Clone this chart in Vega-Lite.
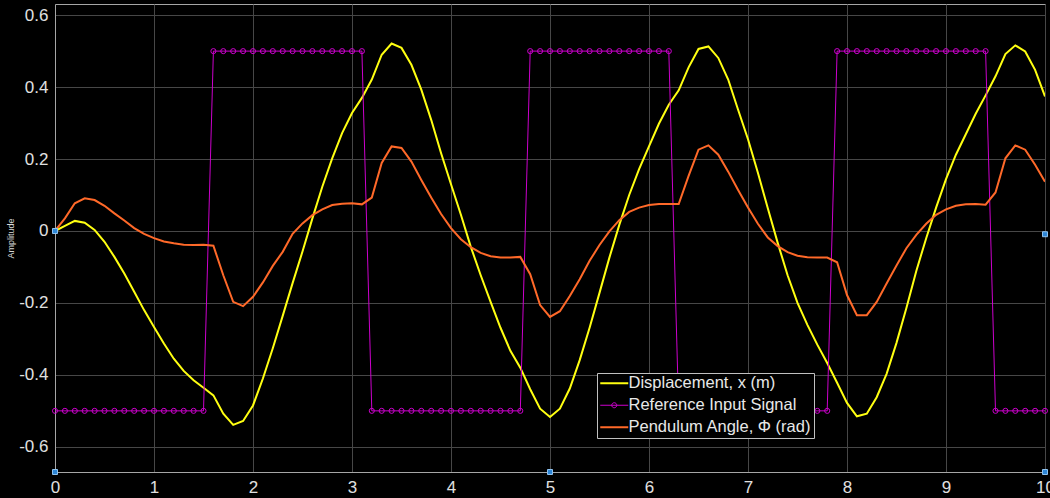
{
"$schema": "https://vega.github.io/schema/vega-lite/v6.json",
"width": 990, "height": 468,
"autosize": {"type": "none"},
"padding": {"left": 55, "top": 4, "right": 5, "bottom": 26},
"background": "#000000",
"config": {"view": {"stroke": "#a6a6a6", "fill": "#000000"}},
"datasets": {
"sim": [
{"t":0,"x":0,"ref":-0.5,"phi":0},
{"t":0.1,"x":0.014,"ref":-0.5,"phi":0.035},
{"t":0.2,"x":0.028,"ref":-0.5,"phi":0.077},
{"t":0.3,"x":0.023,"ref":-0.5,"phi":0.091},
{"t":0.4,"x":0.003,"ref":-0.5,"phi":0.086},
{"t":0.5,"x":-0.030,"ref":-0.5,"phi":0.070},
{"t":0.6,"x":-0.072,"ref":-0.5,"phi":0.049},
{"t":0.7,"x":-0.118,"ref":-0.5,"phi":0.029},
{"t":0.8,"x":-0.169,"ref":-0.5,"phi":0.008},
{"t":0.9,"x":-0.220,"ref":-0.5,"phi":-0.008},
{"t":1.0,"x":-0.267,"ref":-0.5,"phi":-0.020},
{"t":1.1,"x":-0.313,"ref":-0.5,"phi":-0.029},
{"t":1.2,"x":-0.355,"ref":-0.5,"phi":-0.034},
{"t":1.3,"x":-0.389,"ref":-0.5,"phi":-0.038},
{"t":1.4,"x":-0.415,"ref":-0.5,"phi":-0.039},
{"t":1.5,"x":-0.436,"ref":-0.5,"phi":-0.038},
{"t":1.6,"x":-0.457,"ref":0.5,"phi":-0.041},
{"t":1.7,"x":-0.508,"ref":0.5,"phi":-0.123},
{"t":1.8,"x":-0.539,"ref":0.5,"phi":-0.197},
{"t":1.9,"x":-0.528,"ref":0.5,"phi":-0.209},
{"t":2.0,"x":-0.485,"ref":0.5,"phi":-0.183},
{"t":2.1,"x":-0.410,"ref":0.5,"phi":-0.143},
{"t":2.2,"x":-0.326,"ref":0.5,"phi":-0.097},
{"t":2.3,"x":-0.236,"ref":0.5,"phi":-0.058},
{"t":2.4,"x":-0.145,"ref":0.5,"phi":-0.008},
{"t":2.5,"x":-0.057,"ref":0.5,"phi":0.021},
{"t":2.6,"x":0.035,"ref":0.5,"phi":0.044},
{"t":2.7,"x":0.123,"ref":0.5,"phi":0.060},
{"t":2.8,"x":0.202,"ref":0.5,"phi":0.072},
{"t":2.9,"x":0.272,"ref":0.5,"phi":0.076},
{"t":3.0,"x":0.328,"ref":0.5,"phi":0.077},
{"t":3.1,"x":0.370,"ref":0.5,"phi":0.074},
{"t":3.2,"x":0.421,"ref":-0.5,"phi":0.093},
{"t":3.3,"x":0.490,"ref":-0.5,"phi":0.189},
{"t":3.4,"x":0.521,"ref":-0.5,"phi":0.235},
{"t":3.5,"x":0.509,"ref":-0.5,"phi":0.231},
{"t":3.6,"x":0.462,"ref":-0.5,"phi":0.193},
{"t":3.7,"x":0.393,"ref":-0.5,"phi":0.142},
{"t":3.8,"x":0.309,"ref":-0.5,"phi":0.093},
{"t":3.9,"x":0.216,"ref":-0.5,"phi":0.047},
{"t":4.0,"x":0.130,"ref":-0.5,"phi":0.008},
{"t":4.1,"x":0.045,"ref":-0.5,"phi":-0.023},
{"t":4.2,"x":-0.044,"ref":-0.5,"phi":-0.045},
{"t":4.3,"x":-0.123,"ref":-0.5,"phi":-0.061},
{"t":4.4,"x":-0.197,"ref":-0.5,"phi":-0.070},
{"t":4.5,"x":-0.269,"ref":-0.5,"phi":-0.074},
{"t":4.6,"x":-0.333,"ref":-0.5,"phi":-0.074},
{"t":4.7,"x":-0.380,"ref":-0.5,"phi":-0.072},
{"t":4.8,"x":-0.440,"ref":0.5,"phi":-0.120},
{"t":4.9,"x":-0.494,"ref":0.5,"phi":-0.206},
{"t":5.0,"x":-0.517,"ref":0.5,"phi":-0.239},
{"t":5.1,"x":-0.494,"ref":0.5,"phi":-0.223},
{"t":5.2,"x":-0.438,"ref":0.5,"phi":-0.181},
{"t":5.3,"x":-0.359,"ref":0.5,"phi":-0.134},
{"t":5.4,"x":-0.269,"ref":0.5,"phi":-0.083},
{"t":5.5,"x":-0.172,"ref":0.5,"phi":-0.039},
{"t":5.6,"x":-0.074,"ref":0.5,"phi":-0.001},
{"t":5.7,"x":0.017,"ref":0.5,"phi":0.030},
{"t":5.8,"x":0.100,"ref":0.5,"phi":0.053},
{"t":5.9,"x":0.172,"ref":0.5,"phi":0.065},
{"t":6.0,"x":0.235,"ref":0.5,"phi":0.072},
{"t":6.1,"x":0.298,"ref":0.5,"phi":0.075},
{"t":6.2,"x":0.351,"ref":0.5,"phi":0.075},
{"t":6.3,"x":0.391,"ref":-0.5,"phi":0.075},
{"t":6.4,"x":0.455,"ref":-0.5,"phi":0.153},
{"t":6.5,"x":0.506,"ref":-0.5,"phi":0.226},
{"t":6.6,"x":0.513,"ref":-0.5,"phi":0.238},
{"t":6.7,"x":0.481,"ref":-0.5,"phi":0.212},
{"t":6.8,"x":0.421,"ref":-0.5,"phi":0.165},
{"t":6.9,"x":0.337,"ref":-0.5,"phi":0.114},
{"t":7.0,"x":0.255,"ref":-0.5,"phi":0.065},
{"t":7.1,"x":0.162,"ref":-0.5,"phi":0.020},
{"t":7.2,"x":0.063,"ref":-0.5,"phi":-0.018},
{"t":7.3,"x":-0.033,"ref":-0.5,"phi":-0.042},
{"t":7.4,"x":-0.123,"ref":-0.5,"phi":-0.059},
{"t":7.5,"x":-0.200,"ref":-0.5,"phi":-0.069},
{"t":7.6,"x":-0.261,"ref":-0.5,"phi":-0.073},
{"t":7.7,"x":-0.316,"ref":-0.5,"phi":-0.074},
{"t":7.8,"x":-0.367,"ref":-0.5,"phi":-0.074},
{"t":7.9,"x":-0.422,"ref":0.5,"phi":-0.087},
{"t":8.0,"x":-0.478,"ref":0.5,"phi":-0.178},
{"t":8.1,"x":-0.515,"ref":0.5,"phi":-0.234},
{"t":8.2,"x":-0.508,"ref":0.5,"phi":-0.234},
{"t":8.3,"x":-0.462,"ref":0.5,"phi":-0.197},
{"t":8.4,"x":-0.397,"ref":0.5,"phi":-0.146},
{"t":8.5,"x":-0.311,"ref":0.5,"phi":-0.096},
{"t":8.6,"x":-0.214,"ref":0.5,"phi":-0.048},
{"t":8.7,"x":-0.111,"ref":0.5,"phi":-0.011},
{"t":8.8,"x":-0.020,"ref":0.5,"phi":0.020},
{"t":8.9,"x":0.065,"ref":0.5,"phi":0.045},
{"t":9.0,"x":0.144,"ref":0.5,"phi":0.060},
{"t":9.1,"x":0.212,"ref":0.5,"phi":0.070},
{"t":9.2,"x":0.269,"ref":0.5,"phi":0.074},
{"t":9.3,"x":0.326,"ref":0.5,"phi":0.075},
{"t":9.4,"x":0.377,"ref":0.5,"phi":0.073},
{"t":9.5,"x":0.430,"ref":-0.5,"phi":0.107},
{"t":9.6,"x":0.492,"ref":-0.5,"phi":0.202},
{"t":9.7,"x":0.516,"ref":-0.5,"phi":0.238},
{"t":9.8,"x":0.499,"ref":-0.5,"phi":0.226},
{"t":9.9,"x":0.448,"ref":-0.5,"phi":0.184},
{"t":10.0,"x":0.374,"ref":-0.5,"phi":0.137}
],
"cursor": [
{"t":0,"value":0},
{"t":0,"value":-0.67},
{"t":5,"value":-0.67},
{"t":10,"value":-0.67},
{"t":10,"value":-0.009}
]
},
"layer": [
{
"data": {"name": "sim"},
"transform": [{"fold": ["x", "ref", "phi"], "as": ["series", "value"]}],
"mark": {"type": "line", "clip": true},
"encoding": {
"x": {"field": "t", "type": "quantitative",
 "scale": {"domain": [0, 10], "nice": false},
 "axis": {"values": [0,1,2,3,4,5,6,7,8,9,10], "title": null, "format": "d",
  "labelFont": "Liberation Sans", "labelFontSize": 17, "labelColor": "#e0e0e0",
  "labelPadding": 7, "ticks": false, "domainColor": "#a6a6a6", "grid": true, "gridColor": "#474747",
  "labelOverlap": false, "labelBound": false, "labelFlush": false}},
"y": {"field": "value", "type": "quantitative",
 "scale": {"domain": [-0.67, 0.631], "nice": false, "zero": false},
 "axis": {"values": [-0.6,-0.4,-0.2,0,0.2,0.4,0.6],
  "labelExpr": "datum.value === 0 ? '0' : (datum.value < 0 ? '-' + format(-datum.value, '.1f') : format(datum.value, '.1f'))",
  "title": "Amplitude", "titleFont": "Liberation Sans", "titleFontSize": 9, "titleFontWeight": "normal", "titleColor": "#d8d8d8", "titlePadding": 3,
  "labelFont": "Liberation Sans", "labelFontSize": 17, "labelColor": "#e0e0e0",
  "labelPadding": 7, "ticks": false, "domainColor": "#a6a6a6", "grid": true, "gridColor": "#474747",
  "labelOverlap": false, "labelBound": false, "labelFlush": false}},
"color": {"field": "series", "type": "nominal",
 "scale": {"domain": ["x", "ref", "phi"], "range": ["#FFFF11", "#CC00CC", "#FF6929"]},
 "legend": {"orient": "none", "legendX": 542, "legendY": 369, "title": null,
  "fillColor": "#000000", "strokeColor": "#c0c0c0", "padding": 2,
  "labelFont": "Liberation Sans", "labelFontSize": 16.5, "labelColor": "#e8e8e8", "labelLimit": 400,
  "symbolType": "M-2,0H2", "symbolSize": 196, "symbolStrokeWidth": 2, "symbolOffset": 7,
  "labelOffset": 6, "rowPadding": 5,
  "labelExpr": "datum.value === 'x' ? 'Displacement, x (m)' : (datum.value === 'ref' ? 'Reference Input Signal' : 'Pendulum Angle, Φ (rad)')",
  "encode": {"symbols": {"update": {
   "shape": {"signal": "datum.value === 'ref' ? 'M-2,0H2M-0.36,0A0.36,0.36,0,1,0,0.36,0A0.36,0.36,0,1,0,-0.36,0' : 'M-2,0H2'"},
   "strokeWidth": {"signal": "datum.value === 'ref' ? 1 : 2"}}}}}},
"strokeWidth": {"condition": {"test": "datum.series === 'ref'", "value": 1}, "value": 2}
}
},
{
"data": {"name": "sim"},
"mark": {"type": "point", "filled": false, "size": 26, "strokeWidth": 1, "color": "#CC00CC", "opacity": 1},
"encoding": {
"x": {"field": "t", "type": "quantitative"},
"y": {"field": "ref", "type": "quantitative"}
}
},
{
"data": {"name": "cursor"},
"mark": {"type": "square", "size": 25, "fill": "#2E86D6", "stroke": "#8fc3f0", "strokeWidth": 1, "opacity": 1, "clip": false},
"encoding": {
"x": {"field": "t", "type": "quantitative"},
"y": {"field": "value", "type": "quantitative"}
}
}
]
}
